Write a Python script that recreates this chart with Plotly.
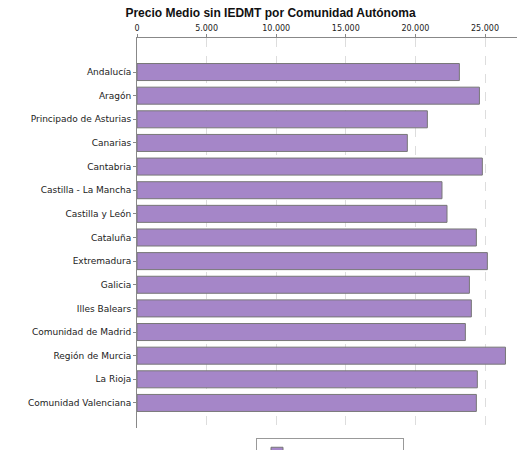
import plotly.graph_objects as go

regiones = ["Andalucía", "Aragón", "Principado de Asturias", "Canarias", "Cantabria",
            "Castilla - La Mancha", "Castilla y León", "Cataluña", "Extremadura", "Galicia",
            "Illes Balears", "Comunidad de Madrid", "Región de Murcia", "La Rioja",
            "Comunidad Valenciana"]
valores = [23160, 24600, 20860, 19420, 24810, 21910, 22270, 24380, 25170, 23880,
           24020, 23590, 26470, 24450, 24380]

fig = go.Figure()
fig.add_trace(go.Bar(
    x=valores, y=regiones, orientation="h",
    name="Valor Medio sin IEDMT",
    marker=dict(color="#a586c8", line=dict(color="#777777", width=1)),
    width=0.72,
))

fig.update_layout(
    width=525, height=450,
    margin=dict(l=129, r=10, t=30, b=30, autoexpand=False),
    paper_bgcolor="white", plot_bgcolor="white",
    font=dict(family="DejaVu Sans", size=9, color="#222222"),
    title=dict(text="<b>Precio Medio sin IEDMT por Comunidad Autónoma</b>",
               x=0.5, xanchor="center", y=0.998, yanchor="top",
               font=dict(family="Liberation Sans", size=12, color="#111111")),
    xaxis=dict(side="top", range=[0, 27730], dtick=5000, tickformat=",d",
               showgrid=True, gridcolor="#dddddd",
               griddash="dash", showline=True, linecolor="#888888",
               ticks="outside", ticklen=3, tickcolor="#888888", zeroline=False,
               tickfont=dict(size=8), automargin=False),
    yaxis=dict(range=[15.06, -1.44], showline=True, linecolor="#888888",
               ticks="outside", ticklen=3, tickcolor="#888888",
               automargin=False),
    separators=",.",
    showlegend=True,
    legend=dict(orientation="h", x=0.5, xanchor="center", y=-0.025, yanchor="top",
                bordercolor="#999999", borderwidth=1,
                font=dict(size=9, color="#330066"),
                itemwidth=30, tracegroupgap=0),
)

fig.write_html("out.html")
